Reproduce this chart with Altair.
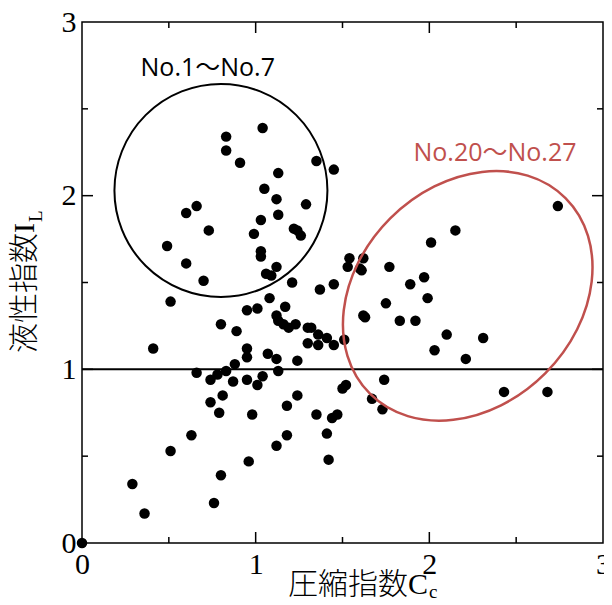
import altair as alt
import pandas as pd

# ---- data ----
cc = [0.00, 0.29, 0.36, 0.41, 0.49, 0.51, 0.51, 0.60, 0.60, 0.63, 0.66, 0.66, 0.70, 0.73,
      0.74, 0.74, 0.76, 0.78, 0.79, 0.80, 0.80, 0.83, 0.83, 0.81, 0.83, 0.87, 0.88, 0.89,
      0.91, 0.95, 0.95, 0.95, 0.95, 0.96, 0.98, 0.99, 1.01, 1.01, 1.03, 1.03, 1.03, 1.04,
      1.04, 1.05, 1.06, 1.07, 1.08, 1.09, 1.12, 1.12, 1.12, 1.12, 1.13, 1.13, 1.13, 1.12,
      1.13, 1.16, 1.17, 1.18, 1.18, 1.19, 1.21, 1.22, 1.23, 1.24, 1.24, 1.24, 1.26, 1.29,
      1.30, 1.30, 1.32, 1.35, 1.35, 1.37, 1.36, 1.36, 1.41, 1.41, 1.42, 1.44, 1.45, 1.45,
      1.45, 1.47, 1.50, 1.51, 1.52, 1.54, 1.53, 1.62, 1.60, 1.61, 1.62, 1.63, 1.67, 1.73,
      1.75, 1.74, 1.77, 1.83, 1.89, 1.92, 1.97, 1.99, 2.01, 2.03, 2.10, 2.15, 2.21, 2.31,
      2.43, 2.68, 2.74]
il = [0.00, 0.34, 0.17, 1.12, 1.71, 1.39, 0.53, 1.90, 1.61, 0.62, 1.94, 0.98, 1.51, 1.80,
      0.94, 0.81, 0.23, 0.97, 0.75, 1.26, 0.39, 2.34, 2.26, 0.85, 0.99, 0.93, 1.03, 1.22,
      2.19, 0.94, 1.34, 1.12, 1.07, 0.47, 0.74, 1.78, 1.35, 0.91, 1.86, 1.65, 1.68, 2.39,
      0.96, 2.04, 1.55, 1.09, 1.41, 1.54, 1.59, 1.06, 0.56, 1.98, 2.13, 1.89, 0.99, 1.31,
      1.28, 1.26, 1.36, 0.62, 0.79, 1.24, 1.50, 1.81, 1.26, 1.80, 1.05, 0.85, 1.77, 1.95,
      1.24, 1.15, 1.24, 2.20, 0.74, 1.46, 1.20, 1.14, 0.63, 1.18, 0.48, 0.72, 2.15, 1.49,
      1.14, 0.74, 0.89, 1.17, 0.91, 1.64, 1.59, 1.64, 1.58, 1.57, 1.31, 1.30, 0.83, 0.77,
      1.38, 0.94, 1.59, 1.28, 1.49, 1.28, 1.53, 1.41, 1.73, 1.11, 1.20, 1.80, 1.06, 1.18,
      0.87, 0.87, 1.94]

major_ticks = [1, 2]
minor_ticks = [0.5, 1.5, 2.5]
tick_labels = [0, 1, 2, 3]
ref_level = [1.0]

group1_label = "No.1～No.7"
group1_center = (0.80, 2.03)
group1_text_pos = (0.724, 2.69)
group2_label = "No.20～No.27"
group2_center = (2.221, 1.423)
group2_text_pos = (2.378, 2.20)

x_title_main, x_title_sub = "圧縮指数C", "c"
y_title_main, y_title_sub = "液性指数I", "L"

# ---- layout ----
W, H = 521, 521
RED = "#c0504d"
SERIF = "'Liberation Serif', 'Noto Sans CJK JP'"
SANS = "'Open Sans', 'Noto Sans CJK JP'"

xs = alt.Scale(domain=[0, 3], nice=False, zero=False)
ys = alt.Scale(domain=[0, 3], nice=False, zero=False)

axis_common = dict(values=tick_labels, title=None, ticks=False, domain=False, grid=False,
                   labelFont="Liberation Serif", labelFontSize=30, labelColor="black",
                   labelFlush=False, labelOverlap=False, format="d")
AX = alt.Axis(labelPadding=6, **axis_common)
AY = alt.Axis(labelPadding=6, **axis_common)

def X(f):
    return alt.X(f, scale=xs, axis=AX)

def Y(f):
    return alt.Y(f, scale=ys, axis=AY)

pts = pd.DataFrame({"Cc": cc, "IL": il})
points = alt.Chart(pts).mark_circle(color="black", opacity=1, size=110, clip=False).encode(
    x=X("Cc:Q"), y=Y("IL:Q"))

ref = alt.Chart(pd.DataFrame({"y": ref_level})).mark_rule(color="black", strokeWidth=2).encode(
    y=Y("y:Q"))

def xticks(vals, length):
    d = pd.DataFrame({"v": vals})
    b = alt.Chart(d).mark_rule(color="black", strokeWidth=1.5).encode(
        x=X("v:Q"), y=alt.value(H), y2=alt.value(H - length))
    t = alt.Chart(d).mark_rule(color="black", strokeWidth=1.5).encode(
        x=X("v:Q"), y=alt.value(0), y2=alt.value(length))
    return [b, t]

def yticks(vals, length):
    d = pd.DataFrame({"v": vals})
    l = alt.Chart(d).mark_rule(color="black", strokeWidth=1.5).encode(
        y=Y("v:Q"), x=alt.value(0), x2=alt.value(length))
    r = alt.Chart(d).mark_rule(color="black", strokeWidth=1.5).encode(
        y=Y("v:Q"), x=alt.value(W), x2=alt.value(W - length))
    return [l, r]

tick_layers = xticks(major_ticks, 11) + xticks(minor_ticks, 6) + yticks(major_ticks, 11) + yticks(minor_ticks, 6)

circle_df = pd.DataFrame({"x": [group1_center[0]], "y": [group1_center[1]]})
circle = alt.Chart(circle_df).mark_point(shape="circle", filled=False, size=213 ** 2,
                                         strokeWidth=2, color="black", opacity=1).encode(
    x=X("x:Q"), y=Y("y:Q"))

ELLIPSE = "M -1 0 A 1 0.7925 0 1 1 1 0 A 1 0.7925 0 1 1 -1 0 Z"
ell_df = pd.DataFrame({"x": [group2_center[0]], "y": [group2_center[1]]})
ellipse = alt.Chart(ell_df).mark_point(shape=ELLIPSE, angle=135, filled=False, size=276.6 ** 2,
                                       strokeWidth=2.5, color=RED, opacity=1).encode(
    x=X("x:Q"), y=Y("y:Q"))

lab_df = pd.DataFrame({"x": [group1_text_pos[0], group2_text_pos[0]],
                       "y": [group1_text_pos[1], group2_text_pos[1]],
                       "t": [group1_label, group2_label],
                       "c": ["black", RED]})
labels = alt.Chart(lab_df).mark_text(font=SANS, fontSize=25, align="center", baseline="alphabetic").encode(
    x=X("x:Q"), y=Y("y:Q"), text="t:N", color=alt.Color("c:N", scale=None))

def txt(s, **kw):
    return alt.Chart(pd.DataFrame({"t": [s]})).mark_text(color="black", **kw).encode(
        text="t:N")

xt_main = txt(x_title_main, font=SERIF, fontSize=30, fontWeight=300, align="right", baseline="alphabetic").encode(
    x=alt.value(346), y=alt.value(572))
xt_sub = txt(x_title_sub, font="Liberation Serif", fontSize=19, align="left", baseline="alphabetic").encode(
    x=alt.value(347), y=alt.value(576))
yt_main = txt(y_title_main, font=SERIF, fontSize=30, fontWeight=300, align="right", baseline="middle", angle=270).encode(
    x=alt.value(-57), y=alt.value(201))
yt_sub = txt(y_title_sub, font="Liberation Serif", fontSize=19, align="left", baseline="alphabetic", angle=270).encode(
    x=alt.value(-40), y=alt.value(200))

chart = alt.layer(
    points, ref, *tick_layers, circle, ellipse, labels, xt_main, xt_sub, yt_main, yt_sub
).properties(
    width=W, height=H,
    autosize=alt.AutoSizeParams(type="none"),
    padding={"left": 74, "top": 14, "right": 1, "bottom": 56},
    background="white",
).configure_view(stroke="black", strokeWidth=1.5)

chart.save("out.html", embed_options={"renderer": "svg", "actions": False})
